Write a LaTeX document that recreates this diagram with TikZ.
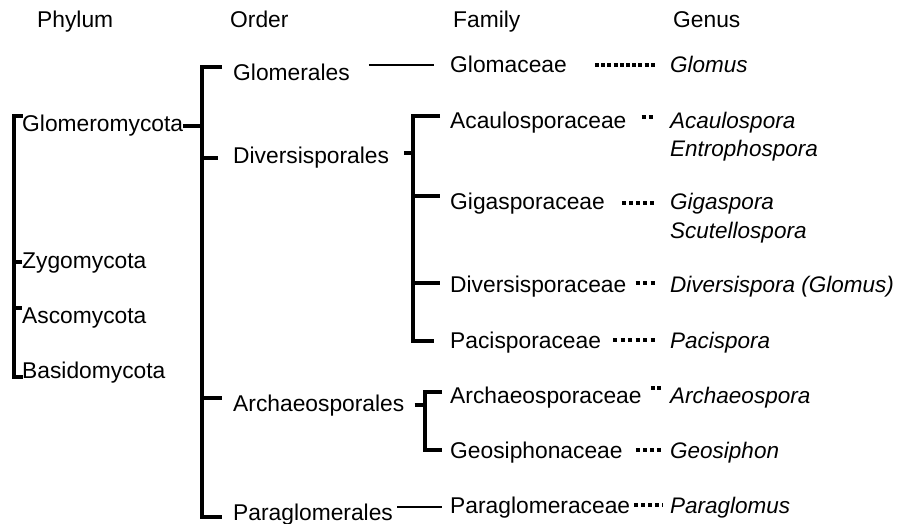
\documentclass[tikz,border=0pt]{standalone}
\usepackage{fontspec}
\setmainfont{Liberation Sans}
\begin{document}
\begin{tikzpicture}[x=1pt,y=-1pt,
  lbl/.style={anchor=west, inner sep=0pt, text height=16.3pt, text depth=0pt, font=\fontsize{22.8}{27}\selectfont},
  gen/.style={lbl, font=\fontsize{22.5}{27}\selectfont\itshape},
  br/.style={line width=3.7pt},
  ln/.style={line width=2.8pt},
  dots/.style={line width=4pt, dash pattern=on 4pt off #1},
  dots/.default=3.5pt]
\path[use as bounding box, fill=white] (0,0) rectangle (901,524);

% headers
\node[lbl] (hP) at (37,19) {Phylum};
\node[lbl] (hO) at (230,19) {Order};
\node[lbl] (hF) at (453,19) {Family};
\node[lbl] (hG) at (673,19) {Genus};

% phyla
\node[lbl] (glo) at (22,123) {Glomeromycota};
\node[lbl] (zyg) at (22,260) {Zygomycota};
\node[lbl] (asc) at (22,315) {Ascomycota};
\node[lbl] (bas) at (22,370) {Basidomycota};

% orders
\node[lbl] (glm) at (233,72) {Glomerales};
\node[lbl] (dvs) at (233,155) {Diversisporales};
\node[lbl] (arc) at (233,403) {Archaeosporales};
\node[lbl] (par) at (233,512) {Paraglomerales};

% families
\node[lbl] (glc) at (450,64) {Glomaceae};
\node[lbl] (aca) at (450,120) {Acaulosporaceae};
\node[lbl] (gig) at (450,201) {Gigasporaceae};
\node[lbl] (dsp) at (450,284) {Diversisporaceae};
\node[lbl] (pac) at (450,340) {Pacisporaceae};
\node[lbl] (arp) at (450,395) {Archaeosporaceae};
\node[lbl] (geo) at (450,450) {Geosiphonaceae};
\node[lbl] (pgc) at (450,505) {Paraglomeraceae};

% genera
\node[gen] (gGlo) at (670,64) {Glomus};
\node[gen] (gAca) at (670,120) {Acaulospora};
\node[gen] (gEnt) at (670,148) {Entrophospora};
\node[gen] (gGig) at (670,201) {Gigaspora};
\node[gen] (gScu) at (670,230) {Scutellospora};
\node[gen] (gDiv) at (670,284) {Diversispora (Glomus)};
\node[gen] (gPac) at (670,340) {Pacispora};
\node[gen] (gArc) at (670,395) {Archaeospora};
\node[gen] (gGeo) at (670,450) {Geosiphon};
\node[gen] (gPar) at (670,505) {Paraglomus};

% phylum bracket
\coordinate (p1) at (14,116);
\coordinate (p2) at (14,377);
\draw[br] ([xshift=1pt]glo.west |- p1) -- (p1) -- (p2) -- ([xshift=1pt]bas.west |- p2);
\draw[br] (p1 |- 0,262) -- (zyg.west |- 0,262);
\draw[br] (p1 |- 0,308) -- (asc.west |- 0,308);

% order bracket
\coordinate (o1) at (202,67);
\coordinate (o2) at (202,517);
\draw[br] ([xshift=-11pt]glm.west |- o1) -- (o1) -- (o2) -- ([xshift=-11pt]par.west |- o2);
\draw[br] (glo.east |- 0,126) -- (o1 |- 0,126);
\draw[br] (o1 |- 0,158) -- ([xshift=-15pt]dvs.west |- 0,158);
\draw[br] (o1 |- 0,398) -- ([xshift=-11pt]arc.west |- 0,398);

% Glomerales -> Glomaceae
\draw[ln] ([xshift=19pt]glm.east |- 0,65) -- ([xshift=-16pt]glc.west |- 0,65);

% Diversisporales bracket
\coordinate (f1) at (413,116);
\coordinate (f2) at (413,341);
\draw[br] ([xshift=15pt]dvs.east |- 0,153) -- (f1 |- 0,153);
\draw[br] ([xshift=-10pt]aca.west |- f1) -- (f1) -- (f2) -- ([xshift=-16pt]pac.west |- f2);
\draw[br] (f1 |- 0,196) -- ([xshift=-10pt]gig.west |- 0,196);
\draw[br] (f1 |- 0,283) -- ([xshift=-10pt]dsp.west |- 0,283);

% Archaeosporales bracket
\coordinate (a1) at (425,392);
\coordinate (a2) at (425,450);
\draw[br] ([xshift=10pt]arc.east |- 0,405) -- (a1 |- 0,405);
\draw[br] ([xshift=-8pt]arp.west |- a1) -- (a1) -- (a2) -- ([xshift=-8pt]geo.west |- a2);

% Paraglomerales -> Paraglomeraceae
\draw[ln] ([xshift=4pt]par.east |- 0,507) -- ([xshift=-8pt]pgc.west |- 0,507);

% dotted links family -> genus
\draw[dots=2.2pt] ([xshift=28pt]glc.east |- 0,65) -- ([xshift=-15pt]gGlo.west |- 0,65);
\draw[dots=3pt] ([xshift=15pt]aca.east |- 0,117) -- ([xshift=-15pt]gAca.west |- 0,117);
\draw[dots=3pt] ([xshift=17pt]gig.east |- 0,203) -- ([xshift=-14pt]gGig.west |- 0,203);
\draw[dots=3.5pt] ([xshift=9pt]dsp.east |- 0,283) -- ([xshift=-14pt]gDiv.west |- 0,283);
\draw[dots=3.5pt] ([xshift=12pt]pac.east |- 0,340) -- ([xshift=-12pt]gPac.west |- 0,340);
\draw[dots=2.5pt] ([xshift=9pt]arp.east |- 0,388) -- ([xshift=-9pt]gArc.west |- 0,388);
\draw[dots=3pt] ([xshift=13pt]geo.east |- 0,450) -- ([xshift=-7pt]gGeo.west |- 0,450);
\draw[dots=3pt] ([xshift=4pt]pgc.east |- 0,505) -- ([xshift=-7pt]gPar.west |- 0,505);
\end{tikzpicture}
\end{document}
